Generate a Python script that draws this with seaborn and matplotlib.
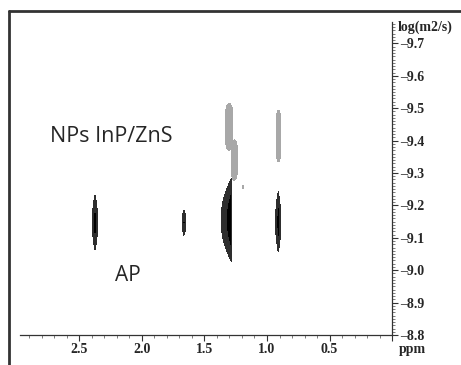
import matplotlib.pyplot as plt
import numpy as np
import seaborn as sns
from matplotlib.lines import Line2D
from matplotlib.ticker import MultipleLocator

# DOSY peaks: chemical shift (ppm), log D (m2/s), half widths
peak_ppm = [2.376, 1.664, 1.285, 0.910, 1.302, 1.262, 0.908, 1.192]
peak_logd = [-9.147, -9.147, -9.155, -9.149, -9.442, -9.340, -9.414, -9.257]
half_ppm_left = [0.022, 0.016, 0.083, 0.022, 0.032, 0.024, 0.018, 0.008]
half_ppm_right = [0.022, 0.016, 0.004, 0.022, 0.030, 0.026, 0.018, 0.008]
half_logd = [0.085, 0.039, 0.128, 0.093, 0.072, 0.062, 0.080, 0.006]
component = ["AP", "AP", "AP", "AP", "NP", "NP", "NP", "NP"]

x_ticks = [2.5, 2.0, 1.5, 1.0, 0.5, 0.0]
x_tick_labels = ["2.5", "2.0", "1.5", "1.0", "0.5", ""]
y_ticks = [-9.7, -9.6, -9.5, -9.4, -9.3, -9.2, -9.1, -9.0, -8.9, -8.8]
y_tick_labels = ["\u20139.7", "\u20139.6", "\u20139.5", "\u20139.4", "\u20139.3",
                 "\u20139.2", "\u20139.1", "\u20139.0", "\u20138.9", "\u20138.8"]


def peak_field(grid_x, grid_y, idx, px, py):
    dx = grid_x - peak_ppm[idx]
    sx = np.where(dx > 0, half_ppm_left[idx], half_ppm_right[idx])
    dy = grid_y - peak_logd[idx]
    return np.abs(dx / sx) ** px + np.abs(dy / half_logd[idx]) ** py


def main() -> None:
    sns.set_theme(style="ticks")
    plt.rcParams["font.family"] = ["Liberation Serif", "DejaVu Serif"]

    fig = plt.figure(figsize=(4.61, 3.65), dpi=100)
    ax = fig.add_axes([20 / 461, 30 / 365, 372 / 461, 313 / 365])

    gx, gy = np.meshgrid(np.linspace(0, 2.976, 3000), np.linspace(-9.8, -8.8, 1200))
    shapes = {"AP": (1, 2), "NP": (2, 4)}
    fields = {}
    for i, comp in enumerate(component):
        px, py = shapes[comp]
        f = peak_field(gx, gy, i, px, py)
        fields[comp] = f if comp not in fields else np.minimum(fields[comp], f)

    ax.contourf(gx, gy, fields["NP"], levels=[0, 1], colors=["#a8a8a8"])
    ax.contourf(gx, gy, fields["AP"], levels=[0, 0.5, 1], colors=["#000000", "#2e2e2e"])

    ax.set_xlim(2.976, 0)
    ax.set_ylim(-8.8, -9.766)

    sns.despine(ax=ax, left=True, top=True, right=False, bottom=False)
    for side in ("bottom", "right"):
        ax.spines[side].set_color("#333333")
        ax.spines[side].set_linewidth(0.9)

    ax.yaxis.tick_right()
    ax.set_xticks(x_ticks)
    ax.set_xticklabels(x_tick_labels)
    ax.set_yticks(y_ticks)
    ax.set_yticklabels(y_tick_labels)
    ax.xaxis.set_minor_locator(MultipleLocator(0.1))
    ax.yaxis.set_minor_locator(MultipleLocator(0.01))
    ax.tick_params(which="major", length=4, width=0.8, color="#333333", pad=2, labelsize=10)
    ax.tick_params(which="minor", length=2, width=0.6, color="#666666")
    for lab in ax.get_xticklabels() + ax.get_yticklabels():
        lab.set_fontweight("bold")

    fig.text(398 / 461, 1 - 27 / 365, "log(m2/s)", fontsize=10, fontweight="bold", va="center")
    fig.text(399 / 461, 1 - 349 / 365, "ppm", fontsize=10, fontweight="bold", va="center")

    ax.text(2.736, -9.414, "NPs InP/ZnS", fontsize=15.5, family="Open Sans", ha="left", va="center")
    ax.text(2.216, -8.984, "AP", fontsize=15, family="Open Sans", ha="left", va="center")

    # outer frame of the figure panel
    fig.add_artist(Line2D([9 / 461, 9 / 461], [0, 1 - 11 / 365], color="#333333", lw=2, transform=fig.transFigure))
    fig.add_artist(Line2D([9 / 461, 1], [1 - 11 / 365, 1 - 11 / 365], color="#333333", lw=2, transform=fig.transFigure))

    fig.savefig("out.png", dpi=100)
    plt.close(fig)


if __name__ == "__main__":
    main()
